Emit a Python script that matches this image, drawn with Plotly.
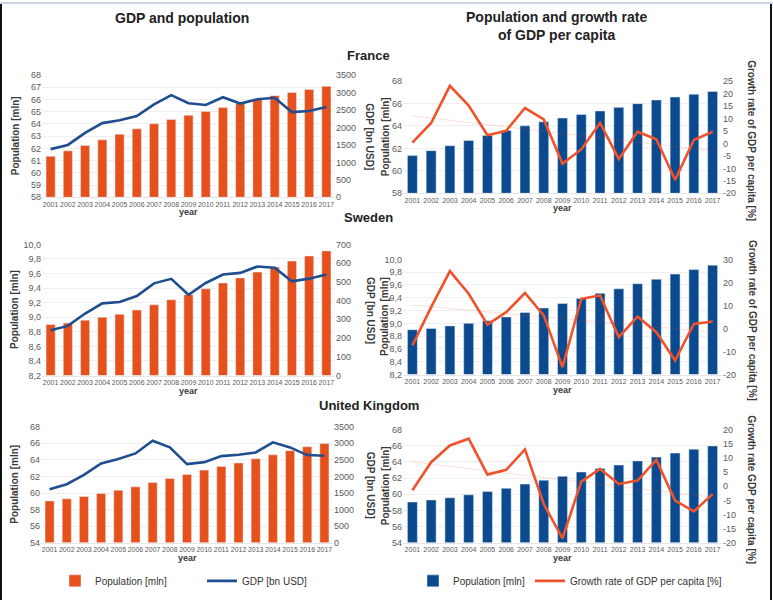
import numpy as np
import plotly.graph_objects as go
from plotly.subplots import make_subplots

W, H = 773, 605
FONT = "Liberation Sans, Arial, sans-serif"

years = ["2001", "2002", "2003", "2004", "2005", "2006", "2007", "2008", "2009",
         "2010", "2011", "2012", "2013", "2014", "2015", "2016", "2017"]

# France
fr_pop = [61.36, 61.80, 62.24, 62.70, 63.16, 63.60, 64.01, 64.37, 64.71,
          65.03, 65.34, 65.66, 65.99, 66.32, 66.58, 66.83, 67.08]
fr_gdp = [1380, 1500, 1845, 2125, 2205, 2325, 2660, 2925, 2695,
          2645, 2865, 2685, 2810, 2850, 2440, 2470, 2585]
fr_growth = [0.3, 8.2, 23.1, 15.2, 3.3, 5.1, 14.2, 9.6, -8.1,
             -2.4, 8.2, -6.2, 4.7, 1.7, -14.6, 1.4, 4.7]

# Sweden
se_pop = [8.90, 8.92, 8.96, 9.00, 9.04, 9.10, 9.17, 9.24, 9.31,
          9.39, 9.47, 9.54, 9.62, 9.69, 9.77, 9.84, 9.91]
se_gdp = [242, 265, 331, 385, 392, 424, 492, 516, 431,
          494, 539, 548, 582, 575, 503, 517, 539]
se_growth = [-7.4, 9.3, 24.9, 15.1, 1.7, 7.1, 15.4, 5.7, -16.8,
             12.9, 14.3, -3.8, 5.2, -1.6, -13.9, 2.0, 3.0]

# United Kingdom
uk_pop = [59.05, 59.30, 59.57, 59.94, 60.34, 60.74, 61.27, 61.75, 62.23,
          62.76, 63.20, 63.62, 64.13, 64.60, 65.10, 65.58, 65.98]
uk_gdp = [1614, 1765, 2048, 2390, 2522, 2693, 3076, 2875, 2370,
          2431, 2612, 2653, 2723, 3026, 2875, 2643, 2622]
uk_growth = [-1.4, 8.5, 14.4, 16.8, 4.1, 5.8, 13.0, -6.3, -18.4,
             1.6, 6.1, 0.8, 2.0, 9.3, -5.1, -8.9, -2.8]

# tick labels
fr_pop_ticks_left = [58, 59, 60, 61, 62, 63, 64, 65, 66, 67, 68]
fr_pop_ticks_right = [58, 60, 62, 64, 66, 68]
se_pop_ticks = [8.2, 8.4, 8.6, 8.8, 9.0, 9.2, 9.4, 9.6, 9.8, 10.0]
se_pop_ticktext = ["8,2", "8,4", "8,6", "8,8", "9,0", "9,2", "9,4", "9,6", "9,8", "10,0"]
uk_pop_ticks = [54, 56, 58, 60, 62, 64, 66, 68]
gdp_ticks_big = [0, 500, 1000, 1500, 2000, 2500, 3000, 3500]
gdp_ticks_se = [0, 100, 200, 300, 400, 500, 600, 700]
fr_growth_ticks = [-20, -15, -10, -5, 0, 5, 10, 15, 20, 25]
se_growth_ticks = [-20, -10, 0, 10, 20, 30]
uk_growth_ticks = [-20, -15, -10, -5, 0, 5, 10, 15, 20]

ORANGE_BAR = "#E5501B"
BLUE_LINE = "#1F4E8F"
BLUE_BAR = "#0B4A8E"
ORANGE_LINE = "#F0532B"
TICK_COLOR = "#5a5a5a"
TITLE_COLOR = "#3a3a3a"


def px_x(x):
    return x / W


def px_y(y):
    yc = (y - 5.0) / 0.982
    return 1 - yc / H


fig = make_subplots(rows=3, cols=2,
                    specs=[[{"secondary_y": True}, {"secondary_y": True}]] * 3,
                    horizontal_spacing=0.05, vertical_spacing=0.05)

# layout boxes (pixels): x0, x1, y_top, y_bottom
boxes = {
    (1, 1): (42, 335, 75, 197),
    (1, 2): (403, 722, 81, 193),
    (2, 1): (42, 335, 244, 375),
    (2, 2): (403, 722, 259, 374),
    (3, 1): (41, 333, 426, 542),
    (3, 2): (403, 722, 429, 542),
}

left_data = [
    (1, fr_pop, fr_gdp, [58, 68], fr_pop_ticks_left, [str(v) for v in fr_pop_ticks_left], [0, 3500], gdp_ticks_big),
    (2, se_pop, se_gdp, [8.2, 10.0], se_pop_ticks, se_pop_ticktext, [0, 700], gdp_ticks_se),
    (3, uk_pop, uk_gdp, [54, 68], uk_pop_ticks, [str(v) for v in uk_pop_ticks], [0, 3500], gdp_ticks_big),
]
right_data = [
    (1, fr_pop, fr_growth, [58, 68], fr_pop_ticks_right, [str(v) for v in fr_pop_ticks_right], [-20, 25], fr_growth_ticks),
    (2, se_pop, se_growth, [8.2, 10.0], se_pop_ticks, se_pop_ticktext, [-20, 30], se_growth_ticks),
    (3, uk_pop, uk_growth, [54, 68], uk_pop_ticks, [str(v) for v in uk_pop_ticks], [-20, 20], uk_growth_ticks),
]

for (row, pop, gdp, prange, ptv, ptt, grange, gtv) in left_data:
    show = row == 3
    fig.add_trace(go.Bar(x=years, y=[p - prange[0] for p in pop], base=prange[0], marker_color=ORANGE_BAR,
                         name="Population [mln]", showlegend=show, legend="legend"),
                  row=row, col=1, secondary_y=False)
    fig.add_trace(go.Scatter(x=years, y=gdp, mode="lines", line=dict(color=BLUE_LINE, width=2.6),
                             name="GDP [bn USD]", showlegend=show, legend="legend"),
                  row=row, col=1, secondary_y=True)
    fig.update_yaxes(range=prange, tickvals=ptv, ticktext=ptt, row=row, col=1, secondary_y=False,
                     showgrid=True, gridcolor="#efefef", gridwidth=1, zeroline=False,
                     tickfont=dict(size=9, color=TICK_COLOR), ticks="")
    fig.update_yaxes(range=grange, tickvals=gtv, ticktext=[str(v) for v in gtv], row=row, col=1,
                     secondary_y=True, showgrid=False, zeroline=False,
                     tickfont=dict(size=9, color=TICK_COLOR), ticks="")

for (row, pop, gr, prange, ptv, ptt, grange, gtv) in right_data:
    show = row == 3
    xs = np.arange(len(years))
    coef = np.polyfit(xs, np.array(gr), 1)
    trend = np.polyval(coef, xs)
    fig.add_trace(go.Bar(x=years, y=[p - prange[0] for p in pop], base=prange[0], marker_color=BLUE_BAR,
                         name="Population [mln]", showlegend=show, legend="legend2"),
                  row=row, col=2, secondary_y=False)
    fig.add_trace(go.Scatter(x=years, y=trend, mode="lines", line=dict(color="rgba(240,83,43,0.18)", width=1),
                             showlegend=False, hoverinfo="skip"),
                  row=row, col=2, secondary_y=True)
    fig.add_trace(go.Scatter(x=years, y=gr, mode="lines", line=dict(color=ORANGE_LINE, width=2.6),
                             name="Growth rate of GDP per capita [%]", showlegend=show, legend="legend2"),
                  row=row, col=2, secondary_y=True)
    fig.update_yaxes(range=prange, tickvals=ptv, ticktext=ptt, row=row, col=2, secondary_y=False,
                     showgrid=True, gridcolor="#efefef", gridwidth=1, zeroline=False,
                     tickfont=dict(size=9, color=TICK_COLOR), ticks="")
    fig.update_yaxes(range=grange, tickvals=gtv, ticktext=[str(v) for v in gtv], row=row, col=2,
                     secondary_y=True, showgrid=False, zeroline=False,
                     tickfont=dict(size=9, color=TICK_COLOR), ticks="")

for (r, c), (x0, x1, yt, yb) in boxes.items():
    fig.update_xaxes(domain=[px_x(x0), px_x(x1)], row=r, col=c, type="category",
                     tickfont=dict(size=7, color=TICK_COLOR), ticks="", showgrid=False, tickangle=0,
                     showline=True, linecolor="#e6e6e6", linewidth=1)
    fig.update_yaxes(domain=[px_y(yb), px_y(yt)], row=r, col=c, secondary_y=False)

annotations = []


def ann(text, x, y, size=10, bold=True, angle=0, color=TITLE_COLOR):
    annotations.append(dict(text=("<b>%s</b>" % text) if bold else text, x=px_x(x), y=px_y(y),
                            xref="paper", yref="paper", showarrow=False, textangle=angle,
                            xanchor="center", yanchor="middle",
                            font=dict(family=FONT, size=size, color=color)))


ann("GDP and population", 182, 18, size=14, color="#222")
ann("Population and growth rate<br>of GDP per capita", 556, 26, size=14, color="#222")
ann("France", 368, 55, size=13, color="#222")
ann("Sweden", 368, 217, size=13, color="#222")
ann("United Kingdom", 369, 405, size=13, color="#222")

for (r, c), (x0, x1, yt, yb) in boxes.items():
    cy = (yt + yb) / 2
    cx = (x0 + x1) / 2
    if c == 1:
        ann("Population [mln]", 15, cy, size=10, angle=-90)
        ann("GDP [bn USD]", 370, cy, size=10, angle=90)
    else:
        ann("Population [mln]", 385, cy, size=10, angle=-90)
        gtxt = "Growth rate GDP per capita [%]" if r == 3 else "Growth rate of GDP per capita [%]"
        ann(gtxt, 752, cy + 3, size=10, angle=90)
    ann("year", cx, yb + 15, size=9)

fig.update_layout(
    width=W, height=H,
    margin=dict(l=0, r=0, t=0, b=0),
    paper_bgcolor="white", plot_bgcolor="white",
    font=dict(family=FONT, color=TICK_COLOR),
    annotations=annotations,
    barmode="overlay",
    bargap=0.47,
    legend=dict(orientation="h", x=px_x(55), y=px_y(580), xanchor="left", yanchor="middle",
                font=dict(size=10, color="#333", family=FONT), entrywidth=102, entrywidthmode="pixels",
                bgcolor="rgba(0,0,0,0)"),
    legend2=dict(orientation="h", x=px_x(413), y=px_y(580), xanchor="left", yanchor="middle",
                 font=dict(size=10, color="#333", family=FONT), itemwidth=30,
                 bgcolor="rgba(0,0,0,0)"),
    shapes=[
        dict(type="line", xref="paper", yref="paper", x0=px_x(1), x1=px_x(1), y0=0, y1=px_y(3),
             line=dict(color="#111", width=2)),
        dict(type="line", xref="paper", yref="paper", x0=px_x(771), x1=px_x(771), y0=0, y1=px_y(3),
             line=dict(color="#111", width=2)),
        dict(type="line", xref="paper", yref="paper", x0=0, x1=1, y0=px_y(3), y1=px_y(3),
             line=dict(color="#c9d6e3", width=2)),
    ],
)

post = (
    "document.documentElement.style.margin='0';"
    "document.body.style.margin='0';document.body.style.padding='0';"
    "document.body.style.overflow='hidden';"
    "var d=document.querySelector('.plotly-graph-div');"
    "if(d){d.style.position='fixed';d.style.top='0px';d.style.left='0px';}"
)
fig.write_html("out.html", config={"displayModeBar": False}, post_script=post)
